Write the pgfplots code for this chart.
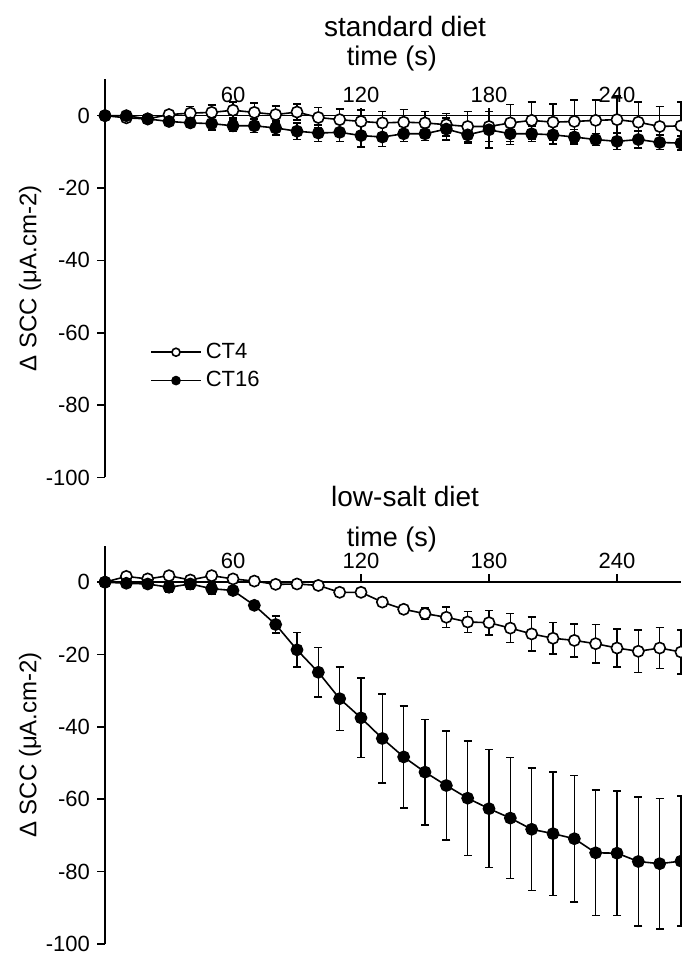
\documentclass[border=0pt]{standalone}
\usepackage{fontspec}
\setmainfont{Liberation Sans}
\usepackage{pgfplots}
\pgfplotsset{compat=1.18}
\usepackage{pgfplotstable}

% columns: time (s), mean, error
\pgfplotstableread{
t v e
0 0 0.5
10 -0.6 0.8
20 -0.9 1.0
30 0.3 1.0
40 0.7 1.8
50 0.9 2.1
60 1.5 2.2
70 0.9 2.6
80 0.3 2.3
90 1.0 2.2
100 -0.5 2.8
110 -1.1 2.9
120 -1.6 3.2
130 -2.0 3.2
140 -1.8 3.5
150 -2.0 3.2
160 -2.5 3.1
170 -3.0 4.2
180 -3.0 4.1
190 -2.0 5.1
200 -1.3 5.1
210 -1.8 5.1
220 -1.6 6.0
230 -1.3 5.7
240 -1.1 6.5
250 -1.8 5.5
260 -3.0 5.5
270 -2.8 6.5
}\stdfour
\pgfplotstableread{
t v e
0 0 0.3
10 0 0.6
20 -0.9 0.8
30 -1.6 1.0
40 -2.0 1.2
50 -2.2 1.8
60 -2.8 1.6
70 -2.8 1.8
80 -3.4 2.0
90 -4.3 2.3
100 -4.8 2.3
110 -4.6 2.5
120 -5.5 3.1
130 -5.9 2.6
140 -5.0 2.1
150 -5.0 1.9
160 -3.7 3.0
170 -5.3 2.3
180 -3.9 5.1
190 -5.0 3.0
200 -5.0 2.1
210 -5.3 2.5
220 -5.9 2.1
230 -6.6 1.7
240 -7.1 2.3
250 -6.6 2.3
260 -7.4 2.0
270 -7.6 2.0
}\stdsixteen
\pgfplotstableread{
t v e
0 0 0.3
10 1.6 0.5
20 0.9 0.5
30 1.8 0.5
40 0.6 0.5
50 1.8 0.5
60 0.9 0.5
70 0.3 0.4
80 -0.6 0.4
90 -0.5 0.4
100 -0.9 0.4
110 -2.8 0.5
120 -2.8 0.6
130 -5.5 0.8
140 -7.5 1.0
150 -8.7 1.6
160 -9.7 2.8
170 -11.0 2.9
180 -11.2 3.4
190 -12.7 4.0
200 -14.3 4.7
210 -15.5 4.4
220 -16.1 4.6
230 -17.0 5.3
240 -18.2 5.2
250 -19.1 5.9
260 -18.2 5.7
270 -19.3 6.0
}\lowfour
\pgfplotstableread{
t v e
0 0 0.3
10 -0.3 0.5
20 -0.5 0.6
30 -1.4 1.5
40 -0.5 1.5
50 -1.8 1.5
60 -2.3 1.0
70 -6.4 1.0
80 -11.7 2.3
90 -18.7 4.8
100 -24.9 6.9
110 -32.2 8.8
120 -37.5 11.0
130 -43.2 12.3
140 -48.3 14.1
150 -52.5 14.6
160 -56.2 15.1
170 -59.7 15.8
180 -62.6 16.3
190 -65.2 16.7
200 -68.3 16.9
210 -69.5 17.1
220 -70.9 17.5
230 -74.8 17.3
240 -74.9 17.2
250 -77.2 17.8
260 -77.8 18.0
270 -77.1 18.0
}\lowsixteen

\pgfplotsset{
  diet/.style={
    scale only axis, width=288pt, height=199pt,
    xmin=0, xmax=270, ymin=-100, ymax=10,
    axis x line=middle, axis y line=left,
    axis line style={-, line width=0.8pt, black},
    clip=false,
    xtick={60,120,180,240}, ytick={-100,-80,...,0},
    tick align=outside, major tick length=4pt,
    tick style={line width=0.8pt, black},
    xtick style={yshift=4pt}, % x ticks point up
    /pgf/number format/assume math mode=true,
    tick label style={font=\fontsize{11}{13}\selectfont},
    xticklabel style={anchor=south, yshift=7pt},
    ylabel={Δ SCC (μA.cm-2)},
    ylabel style={at={(axis description cs:-0.13,0.5)}, anchor=center, rotate=0,
      font=\fontsize{12}{14}\selectfont},
    title style={font=\fontsize{14}{16}\selectfont, anchor=center},
    xlabel style={font=\fontsize{13.5}{15}\selectfont, anchor=center},
  },
  ct4/.style={black, line width=0.8pt, mark=*, mark size=2.8pt,
    mark options={fill=white, draw=black, line width=0.8pt},
    error bars/.cd, y dir=both, y explicit,
    error bar style={line width=0.8pt, black},
    error mark options={rotate=90, mark size=2pt, line width=0.8pt, black}},
  ct16/.style={black, line width=0.8pt, mark=*, mark size=2.8pt,
    mark options={fill=black, draw=black},
    error bars/.cd, y dir=both, y explicit,
    error bar style={line width=0.8pt, black},
    error mark options={rotate=90, mark size=2pt, line width=0.8pt, black}},
}

\begin{document}
\begin{tikzpicture}
\useasboundingbox (0,0) rectangle (340.5pt,478pt);

\begin{axis}[diet, at={(52.5pt,239.25pt)}, anchor=south west,
  title={standard diet}, title style={at={(axis description cs:0.521,1.103)}},
  xlabel={time (s)}, xlabel style={at={(axis description cs:0.498,1.053)}},
  legend style={draw=none, fill=none, inner sep=0pt, at={(axis cs:21,-69.3)}, anchor=west,
    font=\fontsize{11}{13}\selectfont, row sep=1pt},
  legend cell align=left,
  legend image code/.code={\draw[mark repeat=2, mark phase=2, mark size=2pt]
    plot coordinates {(0pt,0pt) (12.5pt,0pt) (25pt,0pt)};},
  ]
\addplot[ct4] table[x=t, y=v, y error=e] {\stdfour};
\addlegendentry{CT4}
\addplot[ct16] table[x=t, y=v, y error=e] {\stdsixteen};
\addlegendentry{CT16}
\end{axis}

\begin{axis}[diet, at={(52.5pt,6pt)}, anchor=south west,
  title={low-salt diet}, title style={at={(axis description cs:0.521,1.095)}},
  xlabel={time (s)}, xlabel style={at={(axis description cs:0.498,1.016)}},
  ]
\addplot[ct4] table[x=t, y=v, y error=e] {\lowfour};
\addplot[ct16] table[x=t, y=v, y error=e] {\lowsixteen};
\end{axis}
\end{tikzpicture}
\end{document}
